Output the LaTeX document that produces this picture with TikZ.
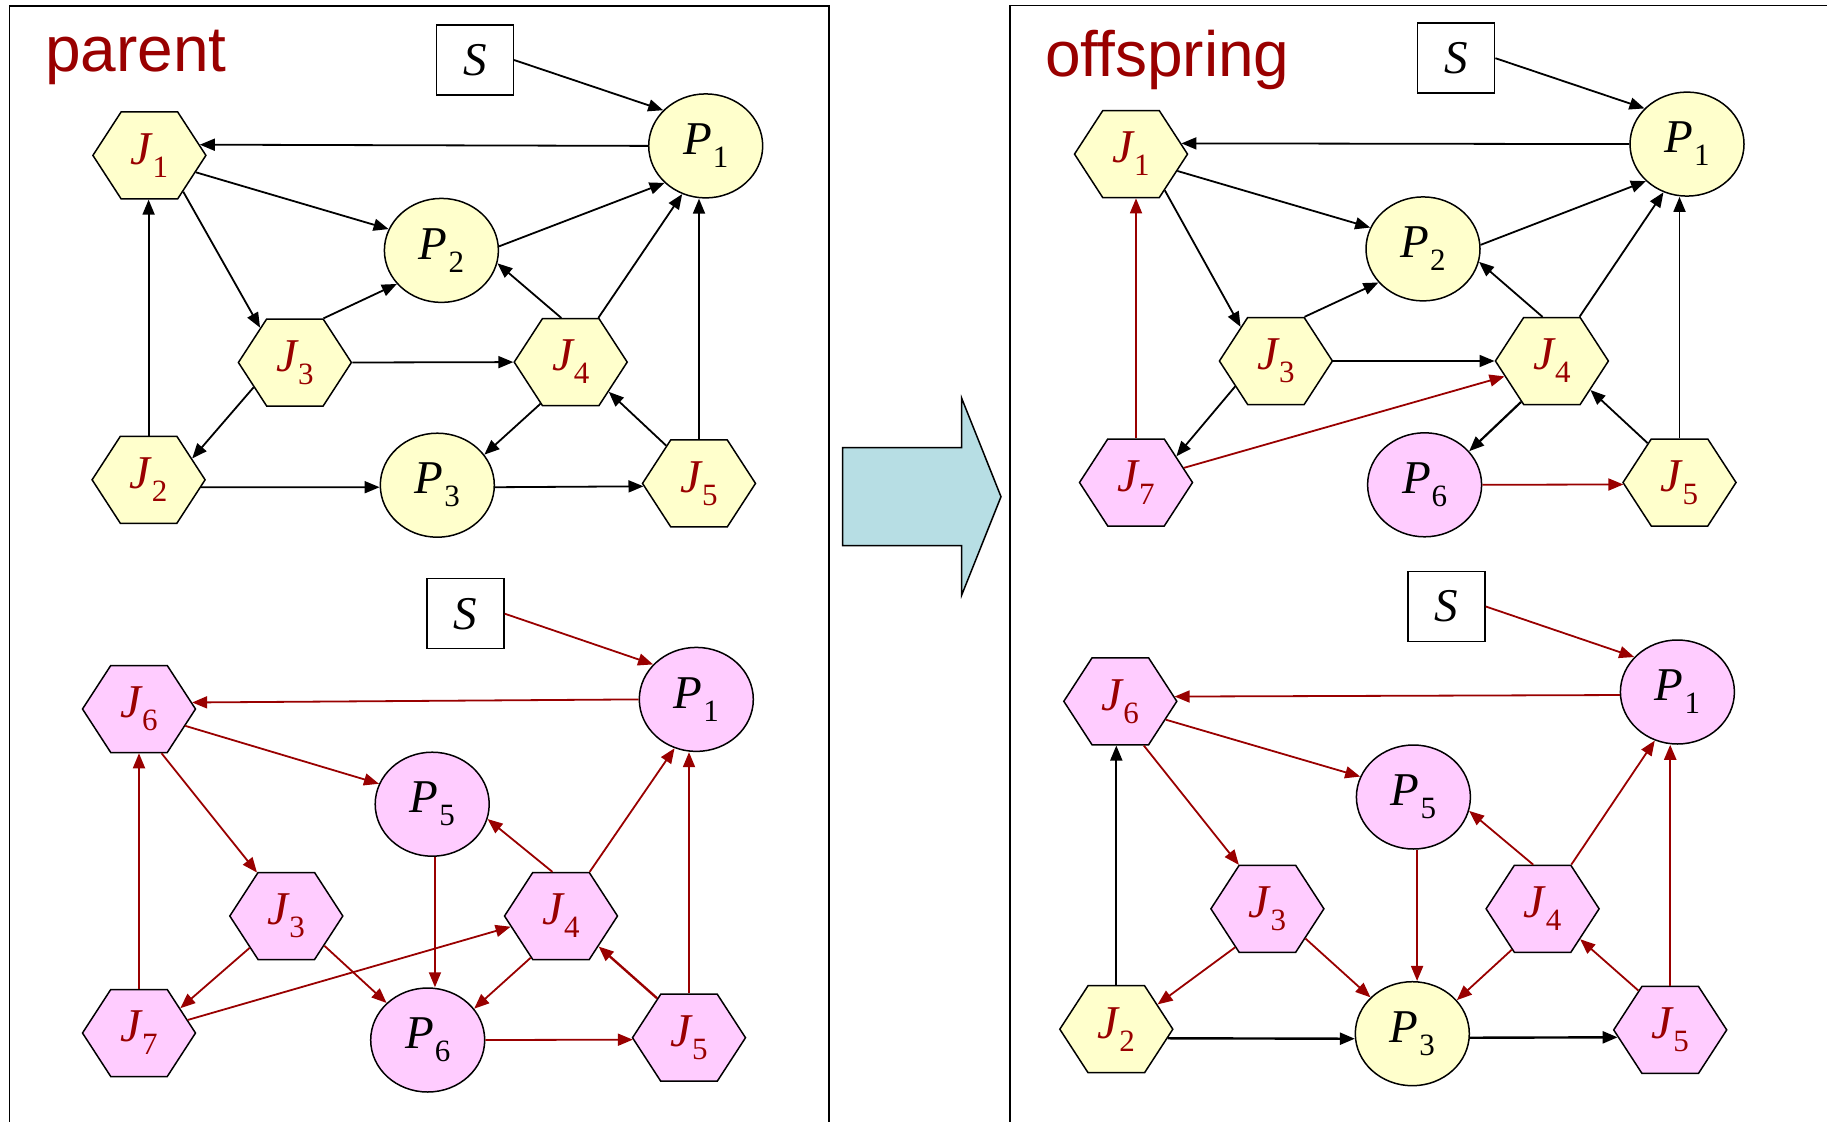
\documentclass[tikz,border=0pt]{standalone}
\usepackage{fontspec}
\setmainfont{Liberation Serif}
\newfontfamily\headfont{Liberation Sans}
\usetikzlibrary{shapes.geometric,shapes.symbols,arrows.meta}

\definecolor{jobyel}{RGB}{255,255,204}
\definecolor{jobpink}{RGB}{255,204,255}
\definecolor{deepred}{RGB}{153,0,0}
\definecolor{arrowteal}{RGB}{183,222,228}

% italic letter with an upright, lowered index
\newcommand{\lb}[2]{{\fontsize{47}{47}\selectfont\itshape #1}\kern1pt\raisebox{-13pt}{\fontsize{31}{31}\selectfont #2}}
\newcommand{\srcS}{\fontsize{47}{47}\selectfont\itshape S}

\tikzset{
  hexbase/.style={signal, signal to=east and west, signal pointer angle=114,
    draw, line width=1.5pt, minimum width=113pt, minimum height=87pt,
    inner sep=0pt, text=deepred},
  yhex/.style={hexbase, fill=jobyel},
  phex/.style={hexbase, fill=jobpink},
  ellbase/.style={ellipse, draw, line width=1.5pt, minimum width=114pt,
    minimum height=104pt, inner sep=0pt},
  yell/.style={ellbase, fill=jobyel},
  pell/.style={ellbase, fill=jobpink},
  sbox/.style={rectangle, draw, line width=1.5pt, minimum width=77pt,
    minimum height=70pt, inner sep=0pt, fill=white},
  blk/.style={draw=black, line width=1.8pt, -{Triangle[length=15pt,width=12pt]}},
  redge/.style={draw=deepred, line width=1.8pt, -{Triangle[length=15pt,width=12pt]}},
  head/.style={anchor=base west, inner sep=0pt, text=deepred,
    font=\headfont\fontsize{64}{64}\selectfont},
}

\begin{document}
\begin{tikzpicture}[x=1pt, y=-1pt]
\useasboundingbox (0,0) rectangle (1827,1121);

% panel frames
\draw[line width=1.5pt] (9.6,1130) -- (9.6,6) -- (829,6) -- (829,1130);
\draw[line width=1.5pt] (1010,1130) -- (1010,5.5) -- (1835,5.5);

% transition arrow
\draw[line width=1.5pt, fill=arrowteal, line join=miter]
  (842.7,447.7) -- (961.7,447.7) -- (961.7,398.3) -- (1001,496.7)
  -- (961.7,595) -- (961.7,545.7) -- (842.7,545.7) -- cycle;

\node[head] (tparent) at (45,71.7) {parent};
\node[head] (toff) at (1045,76.8) {offspring};

% ---------- parent 1 ----------
\node[sbox] (aS) at (474.8,60) {\srcS};
\node[yell] (aP1) at (705.7,145.9) {\lb{P}{1}};
\node[yhex] (aJ1) at (149.4,155.4) {\lb{J}{1}};
\node[yell] (aP2) at (441.4,250.4) {\lb{P}{2}};
\node[yhex] (aJ3) at (294.9,362.5) {\lb{J}{3}};
\node[yhex] (aJ4) at (570.7,362.1) {\lb{J}{4}};
\node[yhex] (aJ2) at (148.6,479.8) {\lb{J}{2}};
\node[yell] (aP3) at (437.3,485.2) {\lb{P}{3}};
\node[yhex] (aJ5) at (699,483.4) {\lb{J}{5}};

\draw[blk] (aS.east) -- (aP1.140);
\draw[blk] (aP1.west) -- (aJ1.12);
\draw[blk] (aJ1.-20) -- (aP2.158);
\draw[blk] (aJ1.-47) -- (aJ3.135);
\draw[blk] (aJ2.north) -- (aJ2.north |- aJ1.south);
\draw[blk] (aJ3.57) -- (aP2.217);
\draw[blk] (aP2.4) -- (aP1.222);
\draw[blk] (aJ4.102) -- (aP2.-13);
\draw[blk] (aJ4.58) -- (aP1.244);
\draw[blk] (aJ5.north) -- (aJ5.north |- aP1.south);
\draw[blk] (aJ3.east) -- (aJ4.west);
\draw[blk] (aJ3.211) -- (aJ2.26);
\draw[blk] (aJ4.234) -- (aP3.33);
\draw[blk] (aJ5.131) -- (aJ4.-38);
\draw[blk] (aJ2.-8) -- (aP3.182);
\draw[blk] (aP3.-2) -- (aJ5.183);

% ---------- parent 2 ----------
\node[sbox] (bS) at (465.5,613.7) {\srcS};
\node[pell] (bP1) at (696.3,699.4) {\lb{P}{1}};
\node[phex] (bJ6) at (139,709) {\lb{J}{6}};
\node[pell] (bP5) at (432.2,804.2) {\lb{P}{5}};
\node[phex] (bJ3) at (286.3,916) {\lb{J}{3}};
\node[phex] (bJ4) at (561,916) {\lb{J}{4}};
\node[phex] (bJ7) at (139,1033) {\lb{J}{7}};
\node[pell] (bP6) at (427.7,1040) {\lb{P}{6}};
\node[phex] (bJ5) at (689,1037.7) {\lb{J}{5}};

\draw[redge] (bS.east) -- (bP1.141);
\draw[redge] (bP1.west) -- (bJ6.7);
\draw[redge] (bJ6.-20) -- (bP5.159);
\draw[redge] (bJ6.-63) -- (bJ3.124);
\draw[redge] (bJ7.north) -- (bJ7.north |- bJ6.south);
\draw[redge] (bP5.273) -- (bP5.273 |- bP6.north);
\draw[redge] (bJ4.101) -- (bP5.-15);
\draw[redge] (bJ4.57) -- (bP1.246);
\draw[redge] (bJ5.north) -- (bJ5.north |- bP1.south);
\draw[redge] (bJ3.221) -- (bJ7.31);
\draw[redge] (bJ3.-38) -- (bP6.138);
\draw[redge] (bJ7.15) -- (bJ4.192);
\draw[redge] (bJ4.234) -- (bP6.34);
\draw[redge, line width=2.4pt] (bJ5.129) -- (bJ4.-39);
\draw[redge] (bP6.east) -- (bJ5.182);

% ---------- offspring 1 ----------
\node[sbox] (cS) at (1456.1,58.2) {\srcS};
\node[yell] (cP1) at (1687,144.1) {\lb{P}{1}};
\node[yhex] (cJ1) at (1131,154.1) {\lb{J}{1}};
\node[yell] (cP2) at (1423,248.9) {\lb{P}{2}};
\node[yhex] (cJ3) at (1275.9,361) {\lb{J}{3}};
\node[yhex] (cJ4) at (1551.9,361) {\lb{J}{4}};
\node[phex] (cJ7) at (1136,482.5) {\lb{J}{7}};
\node[pell] (cP6) at (1424.6,484.8) {\lb{P}{6}};
\node[yhex] (cJ5) at (1679.5,482.5) {\lb{J}{5}};

\draw[blk] (cS.east) -- (cP1.140);
\draw[blk] (cP1.west) -- (cJ1.12);
\draw[blk] (cJ1.-20) -- (cP2.158);
\draw[blk] (cJ1.-47) -- (cJ3.136);
\draw[redge] (cJ7.north) -- (cJ7.north |- cJ1.south);
\draw[blk] (cJ3.57) -- (cP2.217);
\draw[blk] (cP2.4) -- (cP1.222);
\draw[blk] (cJ4.102) -- (cP2.-13);
\draw[blk] (cJ4.58) -- (cP1.244);
\draw[blk] (cJ5.north) -- (cJ5.north |- cP1.south);
\draw[blk] (cJ3.east) -- (cJ4.west);
\draw[blk] (cJ3.212) -- (cJ7.33);
\draw[redge] (cJ7.17) -- (cJ4.198);
\draw[blk, line width=2.2pt] (cJ4.233) -- (cP6.37);
\draw[blk] (cJ5.129) -- (cJ4.-37);
\draw[redge] (cP6.east) -- (cJ5.182);

% ---------- offspring 2 ----------
\node[sbox] (dS) at (1446.5,606.5) {\srcS};
\node[pell] (dP1) at (1677.4,692) {\lb{P}{1}};
\node[phex] (dJ6) at (1120.3,701.3) {\lb{J}{6}};
\node[pell] (dP5) at (1413.4,797) {\lb{P}{5}};
\node[phex] (dJ3) at (1267.4,908.8) {\lb{J}{3}};
\node[phex] (dJ4) at (1542.6,908.8) {\lb{J}{4}};
\node[yhex] (dJ2) at (1116.3,1029.2) {\lb{J}{2}};
\node[yell] (dP3) at (1412.3,1033.7) {\lb{P}{3}};
\node[phex] (dJ5) at (1670.2,1029.9) {\lb{J}{5}};

\draw[redge] (dS.east) -- (dP1.141);
\draw[redge] (dP1.183) -- (dJ6.5);
\draw[redge] (dJ6.-22) -- (dP5.159);
\draw[redge] (dJ6.-62) -- (dJ3.123);
\draw[blk] (dJ2.north) -- (dJ2.north |- dJ6.south);
\draw[redge] (dP5.274) -- (dP5.274 |- dP3.north);
\draw[redge] (dJ4.102) -- (dP5.-14);
\draw[redge] (dJ4.57) -- (dP1.245);
\draw[redge, line width=2.2pt] (dJ5.north) -- (dJ5.north |- dP1.south);
\draw[redge] (dJ3.230) -- (dJ2.31);
\draw[redge] (dJ3.-38) -- (dP3.139);
\draw[redge] (dJ4.233) -- (dP3.37);
\draw[redge] (dJ5.129) -- (dJ4.-39);
\draw[blk, line width=2.4pt] (dJ2.-10) -- (dP3.185);
\draw[blk, line width=2.4pt] (dP3.-4) -- (dJ5.188);
\end{tikzpicture}
\end{document}
